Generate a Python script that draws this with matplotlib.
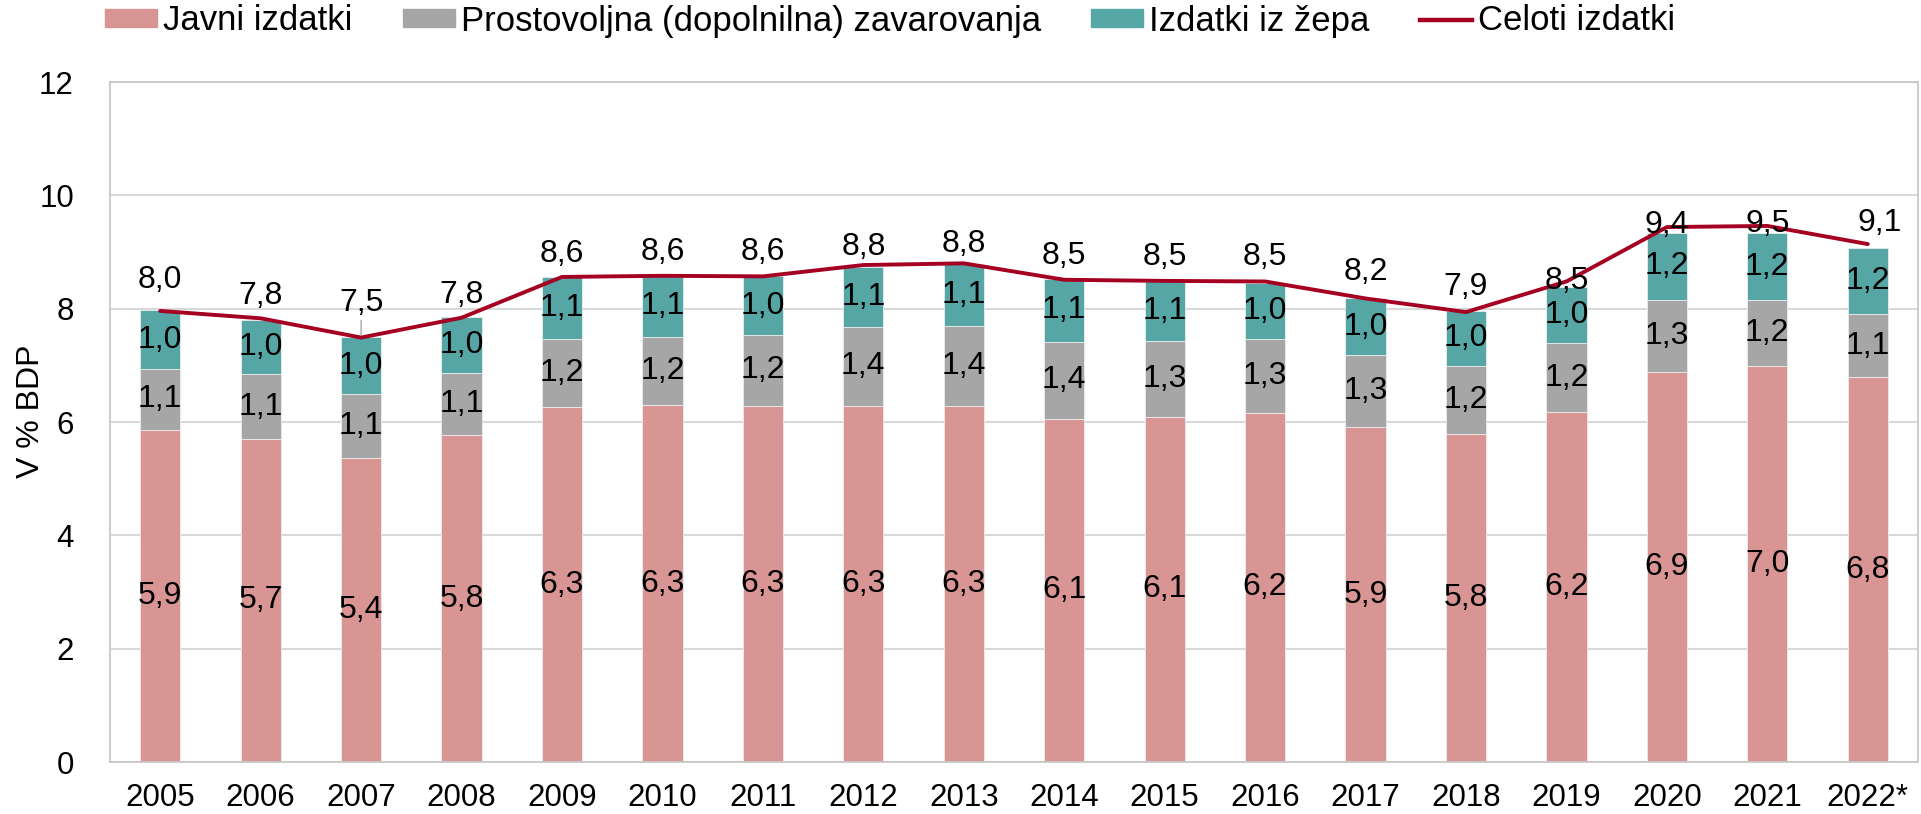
import matplotlib
matplotlib.use("Agg")
import matplotlib.pyplot as plt
import numpy as np
from matplotlib.patches import Patch
from matplotlib.lines import Line2D

plt.rcParams['font.family'] = ['Liberation Sans', 'DejaVu Sans']

years = ["2005", "2006", "2007", "2008", "2009", "2010", "2011", "2012", "2013",
         "2014", "2015", "2016", "2017", "2018", "2019", "2020", "2021", "2022*"]
javni = [5.86, 5.70, 5.37, 5.77, 6.26, 6.30, 6.29, 6.29, 6.28,
         6.06, 6.09, 6.16, 5.91, 5.79, 6.17, 6.89, 6.98, 6.79]
prostovoljna = [1.08, 1.14, 1.12, 1.09, 1.20, 1.20, 1.24, 1.38, 1.41,
                1.36, 1.34, 1.31, 1.27, 1.20, 1.22, 1.27, 1.17, 1.12]
iz_zepa = [1.03, 0.96, 1.01, 0.99, 1.10, 1.09, 1.04, 1.06, 1.10,
           1.10, 1.06, 0.99, 1.00, 0.97, 1.00, 1.18, 1.18, 1.16]
celoti = [7.96, 7.83, 7.49, 7.84, 8.56, 8.58, 8.57, 8.77, 8.80,
          8.51, 8.49, 8.48, 8.18, 7.94, 8.48, 9.44, 9.46, 9.14]
series_names = ["Javni izdatki", "Prostovoljna (dopolnilna) zavarovanja",
                "Izdatki iz žepa", "Celoti izdatki"]
yticks = [0, 2, 4, 6, 8, 10, 12]

# label offsets (pixels) for total-line labels: (dx, dy)
line_lbl_off = [(0, 31), (0, 22), (0, 35), (0, 23), (0, 23), (0, 24), (0, 24), (0, 18), (0, 19),
                (0, 24), (0, 24), (0, 24), (0, 26), (0, 25), (0, 0), (0, 2), (0, 2), (12, 21)]

C_PINK = "#D99594"
C_GREY = "#A6A6A6"
C_TEAL = "#55A6A5"
C_LINE = "#A50021"

W, H = 1921, 814
fig = plt.figure(figsize=(W / 100, H / 100), dpi=100)
ax = fig.add_axes([110 / W, 1 - 762 / H, 1808 / W, 680 / H])

x = np.arange(len(years))
bw = 0.4
b0 = np.zeros(len(years))
for vals, col in [(javni, C_PINK), (prostovoljna, C_GREY), (iz_zepa, C_TEAL)]:
    v = np.array(vals)
    ax.bar(x, v, bw, bottom=b0, color=col, edgecolor="#EDEDED", linewidth=0.6, zorder=2)
    for xi, bi, vi in zip(x, b0, v):
        ax.text(xi, bi + vi / 2, f"{vi:.1f}".replace(".", ","), ha="center", va="center",
                fontsize=23, color="black", zorder=5)
    b0 = b0 + v

ax.plot(x, celoti, color=C_LINE, lw=2.8, zorder=3, solid_capstyle="round")
for xi, vi, (dx, dy) in zip(x, celoti, line_lbl_off):
    ax.annotate(f"{vi:.1f}".replace(".", ","), (xi, vi), xytext=(dx * 0.72, dy * 0.72),
                textcoords="offset points", ha="center", va="center", fontsize=23, zorder=6)
# leader line for 2007
ax.annotate("", (2, celoti[2]), xytext=(0, 0.72 * 20), textcoords="offset points",
            arrowprops=dict(arrowstyle="-", color="#A6A6A6", lw=1.0), zorder=4)

ax.set_xlim(-0.5, len(years) - 0.5)
ax.set_ylim(0, 12)
ax.set_yticks(yticks)
ax.set_xticks(x)
ax.set_xticklabels(years)
ax.tick_params(axis="both", length=0, labelsize=22.5)
ax.tick_params(axis="y", pad=26)
ax.tick_params(axis="x", pad=15)
ax.grid(axis="y", color="#D9D9D9", lw=1.5, zorder=0)
ax.set_axisbelow(True)
for s in ax.spines.values():
    s.set_color("#C8C8C8")
    s.set_linewidth(1.3)
ax.set_ylabel("V % BDP", fontsize=23, va="center")
ax.yaxis.set_label_coords(-0.0435, 0.516)

handles = [Patch(color=C_PINK), Patch(color=C_GREY), Patch(color=C_TEAL),
           Line2D([], [], color=C_LINE, lw=3.2)]
fig.legend(handles, series_names, loc="center left", bbox_to_anchor=(105 / W, 1 - 21 / H),
           ncol=4, frameon=False, borderpad=0, borderaxespad=0,
           prop=dict(family=['Liberation Sans', 'DejaVu Sans'], size=25),
           handlelength=1.5, handleheight=0.43, handletextpad=0.17, columnspacing=1.45)

fig.savefig("out.png", dpi=100)
